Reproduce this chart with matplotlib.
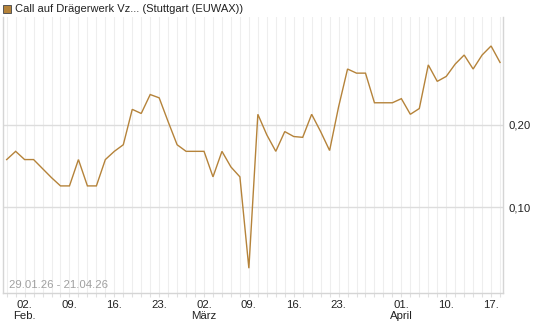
import matplotlib
matplotlib.use("Agg")
import matplotlib.pyplot as plt

# Trading days 29.01.26 .. 20.04.26
dates = ["29.01", "30.01",
         "02.02", "03.02", "04.02", "05.02", "06.02",
         "09.02", "10.02", "11.02", "12.02", "13.02",
         "16.02", "17.02", "18.02", "19.02", "20.02",
         "23.02", "24.02", "25.02", "26.02", "27.02",
         "02.03", "03.03", "04.03", "05.03", "06.03",
         "09.03", "10.03", "11.03", "12.03", "13.03",
         "16.03", "17.03", "18.03", "19.03", "20.03",
         "23.03", "24.03", "25.03", "26.03", "27.03",
         "30.03", "31.03", "01.04", "02.04",
         "07.04", "08.04", "09.04", "10.04",
         "13.04", "14.04", "15.04", "16.04", "17.04",
         "20.04"]
prices = [0.158, 0.168,
          0.158, 0.158, 0.147, 0.136, 0.126,
          0.126, 0.158, 0.126, 0.126, 0.158,
          0.168, 0.176, 0.219, 0.214, 0.237,
          0.233, 0.204, 0.176, 0.168, 0.168,
          0.168, 0.137, 0.168, 0.149, 0.137,
          0.026, 0.213, 0.188, 0.168, 0.192,
          0.186, 0.185, 0.213, 0.192, 0.169,
          0.222, 0.268, 0.263, 0.263, 0.227,
          0.227, 0.227, 0.232, 0.213,
          0.220, 0.273, 0.253, 0.259,
          0.274, 0.285, 0.268, 0.285, 0.296,
          0.276]

tick_dates = ["02.02", "09.02", "16.02", "23.02", "02.03", "09.03",
              "16.03", "23.03", "01.04", "10.04", "17.04"]
tick_labels = ["02.\nFeb.", "09.", "16.", "23.", "02.\nMärz", "09.",
               "16.", "23.", "01.\nApril", "10.", "17."]
y_ticks = [0.10, 0.20]
y_tick_labels = ["0,10", "0,20"]
title = "Call auf Drägerwerk Vz... (Stuttgart (EUWAX))"
range_text = "29.01.26 - 21.04.26"

plt.rcParams['font.family'] = ['Liberation Sans', 'DejaVu Sans']

fig = plt.figure(figsize=(5.45, 3.27), dpi=100)
ax = fig.add_axes([3/545, 1 - 293/327, 500/545, 276/327])

x = list(range(len(dates)))
ax.plot(x, prices, color="#B5833A", lw=1.0, solid_joinstyle="miter")

ax.set_xlim(-0.41, 55.33)
ax.set_ylim(-0.0041, 0.3312)

# grid
for i in x:
    ax.axvline(i, color="#EEEEEE", lw=0.8, zorder=0)
for yv in y_ticks:
    ax.axhline(yv, color="#DDDDDD", lw=1.0, zorder=0)

ax.set_xticks(x)
ax.set_xticklabels([tick_labels[tick_dates.index(d)] if d in tick_dates else "" for d in dates],
                   fontsize=8.2, color="#222222", linespacing=1.15, va="top")
ax.tick_params(axis="x", length=3, color="#E0E0E0", pad=2)

ax.yaxis.tick_right()
ax.set_yticks(y_ticks)
ax.set_yticklabels(y_tick_labels, fontsize=8.2, color="#222222")
ax.tick_params(axis="y", length=0, pad=4)

for s in ["left", "right", "bottom"]:
    ax.spines[s].set_color("#D5D5D5")
    ax.spines[s].set_linewidth(1.0)
ax.spines["top"].set_visible(False)

ax.text(0.012, 0.012, range_text, transform=ax.transAxes, fontsize=8.2,
        color="#A0A0A0", ha="left", va="bottom")

# legend square + title
fig.patches.append(plt.Rectangle((3/545, 1 - 13/327), 8/545, 8/327,
                                 transform=fig.transFigure,
                                 facecolor="#B5833A", edgecolor="#555555", lw=0.7))
fig.text(15/545, 1 - 9/327, title, fontsize=8, color="#222222",
         ha="left", va="center")

fig.savefig("out.png", dpi=100)
